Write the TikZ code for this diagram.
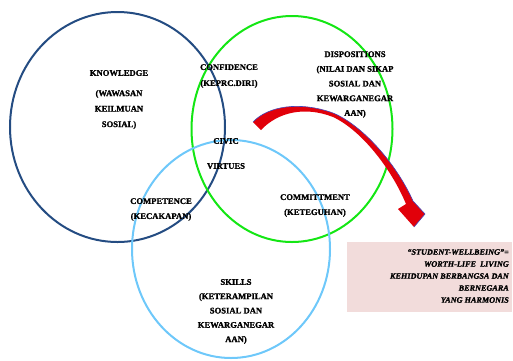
\documentclass[tikz,border=0pt]{standalone}
\usepackage{fontspec}
\setmainfont{Liberation Serif}[BoldFeatures={FakeBold=1.3},BoldItalicFeatures={FakeBold=1.3}]
\begin{document}
\begin{tikzpicture}[x=1pt,y=-1pt,
  ring/.style={line width=2pt},
  lbl/.style={inner sep=0pt,align=center,font=\bfseries\fontsize{8.6}{14.7}\selectfont},
  boxtxt/.style={inner sep=0pt,align=right,font=\bfseries\itshape\fontsize{8.2}{12}\selectfont}]
\useasboundingbox (0,0) rectangle (513,360);
\definecolor{navyc}{RGB}{36,76,130}
\definecolor{greenc}{RGB}{20,230,20}
\definecolor{skyc}{RGB}{110,200,250}
\definecolor{pinkc}{RGB}{242,220,219}
\definecolor{arrowred}{RGB}{225,0,10}
% circles
\draw[ring,navyc] (117.5,127) ellipse [x radius=107.5,y radius=115];
\draw[ring,greenc] (292,129) ellipse [x radius=100.5,y radius=113];
\draw[ring,skyc] (231,249) ellipse [x radius=99,y radius=109];
% box
\node[fill=pinkc,minimum width=165pt,minimum height=70pt,inner sep=0pt,anchor=north west] (box) at (347,242) {};
\node[boxtxt,anchor=east] (wb) at (509,276) {“STUDENT-WELLBEING”=\\WORTH-LIFE\ \ LIVING\\KEHIDUPAN BERBANGSA DAN\\BERNEGARA\\YANG HARMONIS};
% arrow
\coordinate (tailA) at (253,122);
\coordinate (tailB) at (261,130);
\coordinate (tip) at (414,227);
\fill[arrowred,line join=miter]
  (tailA) .. controls (268,106) and (300,101) .. (333,113)
  .. controls (362,125) and (396,163) .. (413,201)
  -- (425,214) -- (tip) -- (398,209)
  -- (406,204) .. controls (391,168) and (361,130) .. (333,117)
  .. controls (305,106) and (278,112) .. (tailB) -- cycle;
\draw[blue!45!gray,line width=0.6pt]
  (tailA) .. controls (268,106) and (300,101) .. (333,113)
  .. controls (362,125) and (396,163) .. (413,201) -- (425,214) -- (tip);
% labels
\node[lbl] (kn) at (119,73) {KNOWLEDGE};
\node[lbl,font=\bfseries\fontsize{8.6}{15.5}\selectfont] (knd) at (119,109.5) {(WAWASAN\\KEILMUAN\\SOSIAL)};
\node[lbl,font=\bfseries\fontsize{8.6}{16}\selectfont] (conf) at (229,76) {CONFIDENCE\\(KEPRC.DIRI)};
\node[lbl] (disp) at (355,84.5) {DISPOSITIONS\\(NILAI DAN SIKAP\\SOSIAL DAN\\KEWARGANEGAR\\AAN)};
\node[lbl] (civic) at (226,141) {CIVIC};
\node[lbl] (virt) at (226,166) {VIRTUES};
\node[lbl,font=\bfseries\fontsize{8.6}{15}\selectfont] (comp) at (161,209.5) {COMPETENCE\\(KECAKAPAN)};
\node[lbl,font=\bfseries\fontsize{8.6}{15}\selectfont] (comm) at (315,205.5) {COMMITTMENT\\(KETEGUHAN)};
\node[lbl,font=\bfseries\fontsize{8.6}{14.3}\selectfont] (skills) at (236,311.5) {SKILLS\\(KETERAMPILAN\\SOSIAL DAN\\KEWARGANEGAR\\AAN)};
\end{tikzpicture}
\end{document}
